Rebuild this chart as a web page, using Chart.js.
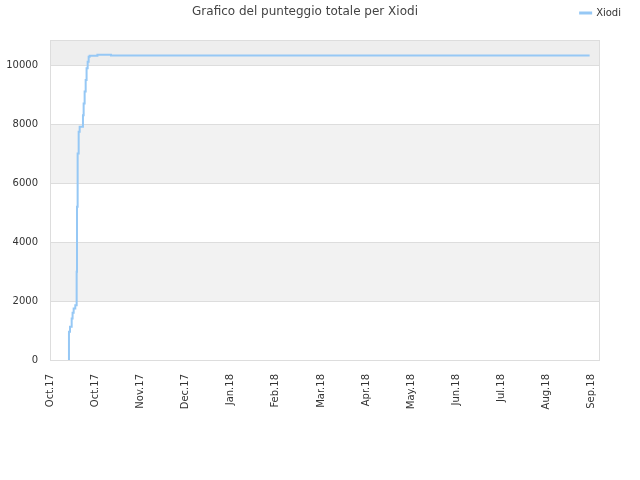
<!DOCTYPE html>
<html><head><meta charset="utf-8">
<script src="https://cdn.jsdelivr.net/npm/chart.js@4/dist/chart.umd.min.js"></script>
<style>html,body{margin:0;padding:0;background:#fff}#wrap{width:640px;height:480px}</style>
</head><body><div id="wrap"><canvas id="c" width="640" height="480"></canvas></div>
<script>
const titleText = "Grafico del punteggio totale per Xiodi";
const seriesName = "Xiodi";
const tickLabels = ["Oct.17","Oct.17","Nov.17","Dec.17","Jan.18","Feb.18","Mar.18","Apr.18","May.18","Jun.18","Jul.18","Aug.18","Sep.18"];
const xVals = [0.42,0.42,0.443,0.48,0.50,0.524,0.56,0.59,0.598,0.612,0.635,0.657,0.73,0.745,0.767,0.79,0.81,0.834,0.856,0.878,1.05,1.35,6.69,11.95];
const yVals = [0,770,960,1130,1410,1600,1750,1860,2990,5200,7000,7740,7910,8300,8700,9100,9490,9890,10110,10280,10320,10350,10325,10325];
const yTicks = [0,2000,4000,6000,8000,10000];
const yMax = 10850;

const points = xVals.map((x,i)=>({x:x,y:yVals[i]}));
const FONT = "'DejaVu Sans', sans-serif";

const bands = {
  id:'bands',
  beforeDraw(chart){
    const {ctx, chartArea:a, scales:{y}} = chart;
    ctx.save();
    const edges = yTicks.concat([y.max]);
    for(let i=0;i<edges.length-1;i++){
      if(i%2===1){
        const top = y.getPixelForValue(edges[i+1]);
        const bot = y.getPixelForValue(edges[i]);
        ctx.fillStyle = (i===edges.length-2) ? '#eeeeee' : '#f2f2f2';
        ctx.fillRect(a.left, top, a.right-a.left, bot-top);
      }
    }
    ctx.restore();
  },
  afterDraw(chart){
    const {ctx, chartArea:a} = chart;
    ctx.save();
    ctx.strokeStyle = '#dddddd';
    ctx.lineWidth = 1;
    ctx.strokeRect(a.left+0.5, a.top+0.5, a.right-a.left-1, a.bottom-a.top);
    ctx.fillStyle = '#444444';
    ctx.font = "12px " + FONT;
    ctx.textAlign = 'center';
    ctx.textBaseline = 'middle';
    ctx.fillText(titleText, 305, 12);
    ctx.restore();
  }
};
const legendFit = {
  id:'legendFit',
  beforeInit(chart){
    const fit = chart.legend.fit;
    chart.legend.fit = function(){ fit.bind(this)(); this.height = 40; };
  }
};

new Chart(document.getElementById('c'), {
  type:'line',
  data:{datasets:[{
    label: seriesName,
    data: points,
    stepped: 'after',
    borderColor:'rgba(150,200,245,1)',
    backgroundColor:'rgba(150,200,245,1)',
    borderWidth:2,
    pointRadius:0,
    fill:false
  }]},
  options:{
    responsive:false,
    animation:false,
    layout:{padding:{left:6,right:11,top:0,bottom:67}},
    plugins:{
      legend:{position:'top',align:'end',
        labels:{boxWidth:11,boxHeight:1,color:'#333',font:{family:FONT,size:10},padding:8}},
      tooltip:{enabled:false}
    },
    scales:{
      x:{type:'linear',min:0,max:12.18,
        grid:{display:false},border:{display:false},
        afterBuildTicks(s){ s.ticks = tickLabels.map((l,i)=>({value:i})); },
        afterFit(s){ s.height = 53; },
        ticks:{autoSkip:false,minRotation:90,maxRotation:90,padding:6,color:'#333',font:{family:FONT,size:10},
          callback:(v,i)=>tickLabels[i]}
      },
      y:{min:0,max:yMax,
        afterBuildTicks(s){ s.ticks = yTicks.map(v=>({value:v})); },
        afterFit(s){ s.width = 44; },
        grid:{color:'#dddddd',drawTicks:false},border:{display:false},
        ticks:{padding:12,color:'#333',font:{family:FONT,size:10},callback:(v)=>String(v)}
      },
      y2:{position:'right',display:true,
        afterFit(s){ s.width = 29; },
        grid:{display:false},border:{display:false},ticks:{display:false}}
    }
  },
  plugins:[bands, legendFit]
});
</script></body></html>
